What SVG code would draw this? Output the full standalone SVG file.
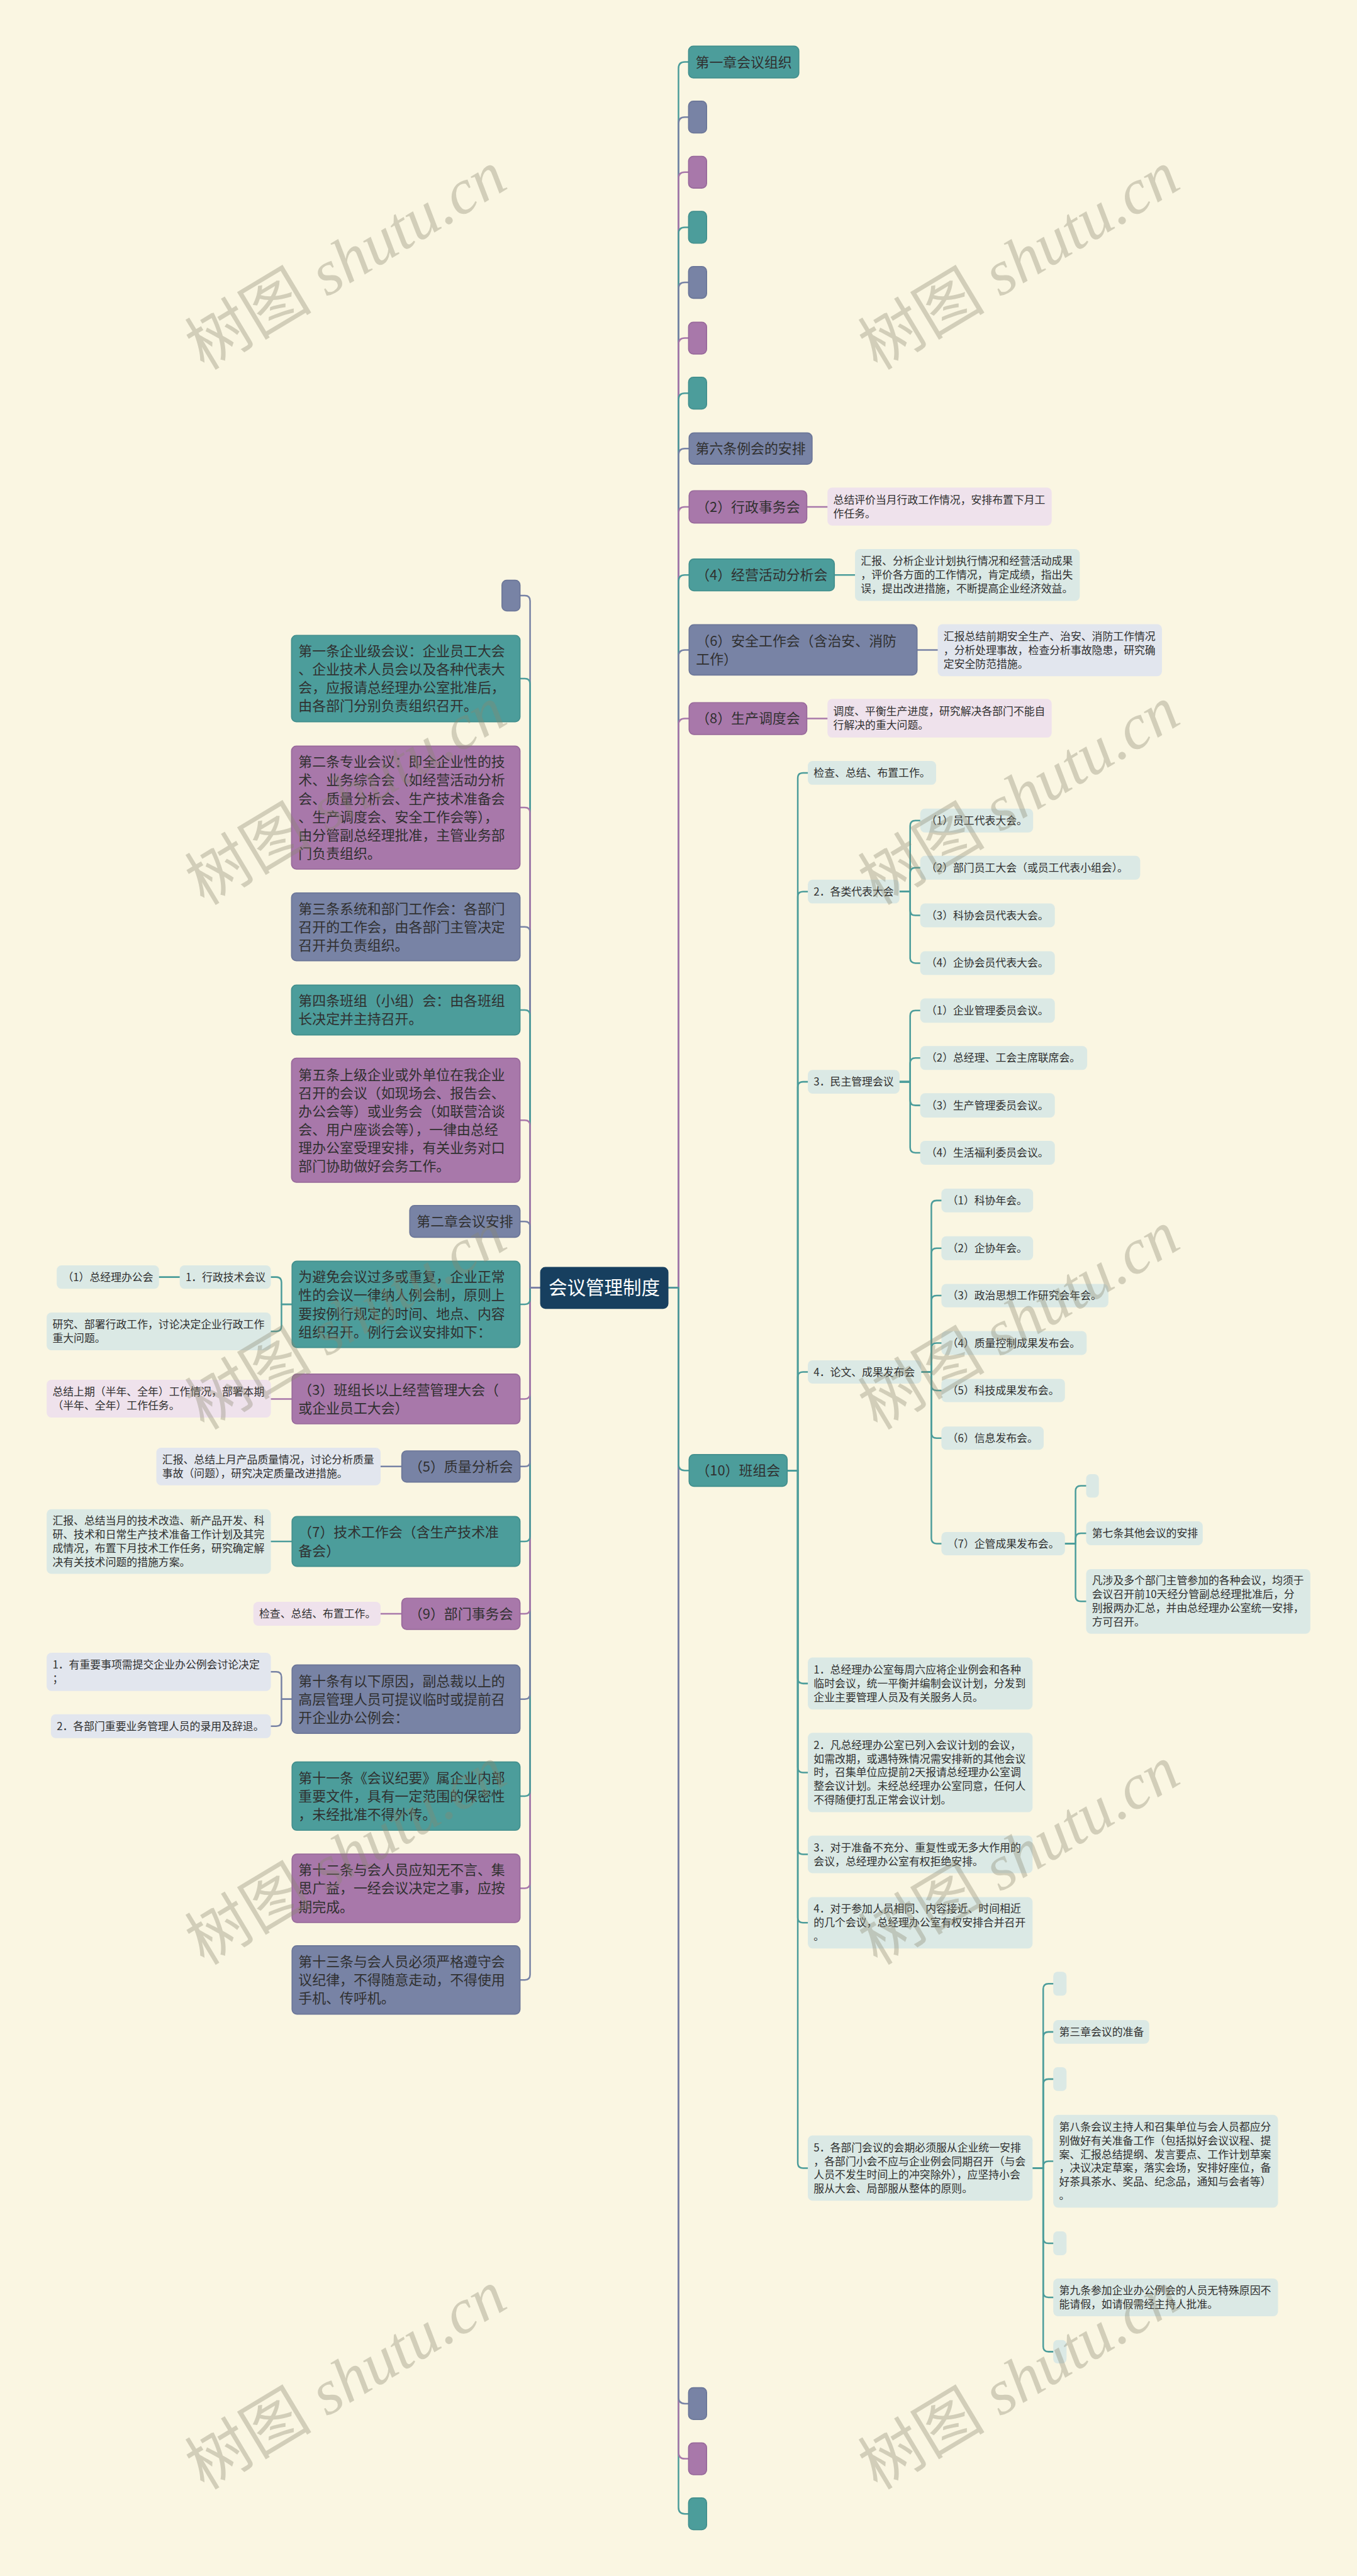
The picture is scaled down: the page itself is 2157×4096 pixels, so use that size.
<svg xmlns="http://www.w3.org/2000/svg" width="2157" height="4096" viewBox="0 0 2157 4096">
<style>
.teal{fill:#4c9d9b;stroke:#428f8d;stroke-width:2}
.blue{fill:#7883a5;stroke:#6b7698;stroke-width:2}
.purple{fill:#a878aa;stroke:#98699b;stroke-width:2}
.root{fill:#173f5f}
.lt{fill:#dbe9e5}
.lp{fill:#efe2ec}
.lb{fill:#e2e6ee}
.c{fill:none;stroke-width:3;stroke-linecap:round;stroke-linejoin:round}
.ct{stroke:#4c9d9b}
.cb{stroke:#7883a5}
.cp{stroke:#a878aa}
.t{font-family:"Noto Sans CJK SC","Noto Sans",sans-serif;fill:#303030}
.f26{font-size:26px}
.f20{font-size:20px}
.f35{font-size:35px;fill:#ffffff}
.m{text-anchor:middle}
.wm{font-family:"Liberation Serif","Noto Sans CJK SC",serif;font-size:120px;fill:#8a876f;opacity:0.35}
.it{font-style:italic}
</style>
<rect x="0" y="0" width="2157" height="4096" fill="#faf6e2"/>
<g transform="scale(0.84258)">
<g id="connectors">
<path class="c ct" d="M1261 2430H1280V129Q1280 117 1292 117H1300"/>
<path class="c cb" d="M1261 2430H1280V233Q1280 221 1292 221H1300"/>
<path class="c cp" d="M1261 2430H1280V337Q1280 325 1292 325H1300"/>
<path class="c ct" d="M1261 2430H1280V441Q1280 429 1292 429H1300"/>
<path class="c cb" d="M1261 2430H1280V545Q1280 533 1292 533H1300"/>
<path class="c cp" d="M1261 2430H1280V650Q1280 638 1292 638H1300"/>
<path class="c ct" d="M1261 2430H1280V754Q1280 742 1292 742H1300"/>
<path class="c cb" d="M1261 2430H1280V858.5Q1280 846.5 1292 846.5H1300"/>
<path class="c cp" d="M1261 2430H1280V968.5Q1280 956.5 1292 956.5H1300"/>
<path class="c ct" d="M1261 2430H1280V1097Q1280 1085 1292 1085H1300"/>
<path class="c cb" d="M1261 2430H1280V1238.5Q1280 1226.5 1292 1226.5H1300"/>
<path class="c cp" d="M1261 2430H1280V1368Q1280 1356 1292 1356H1300"/>
<path class="c ct" d="M1261 2430H1280V4732Q1280 4744 1292 4744H1300"/>
<path class="c cp" d="M1261 2430H1280V4628Q1280 4640 1292 4640H1300"/>
<path class="c cb" d="M1261 2430H1280V4524Q1280 4536 1292 4536H1300"/>
<path class="c ct" d="M1261 2430H1280V2763Q1280 2775 1292 2775H1300"/>

<path class="c cb" d="M1019 2430H1000V3726.5Q1000 3736.5 990 3736.5H981"/>
<path class="c cp" d="M1019 2430H1000V3553.5Q1000 3563.5 990 3563.5H981"/>
<path class="c ct" d="M1019 2430H1000V3379.5Q1000 3389.5 990 3389.5H981"/>
<path class="c cb" d="M1019 2430H1000V3196.5Q1000 3206.5 990 3206.5H981"/>
<path class="c cp" d="M1019 2430H1000V3035.5Q1000 3045.5 990 3045.5H981"/>
<path class="c ct" d="M1019 2430H1000V2899Q1000 2909 990 2909H981"/>
<path class="c cb" d="M1019 2430H1000V2757.5Q1000 2767.5 990 2767.5H981"/>
<path class="c cp" d="M1019 2430H1000V2630Q1000 2640 990 2640H981"/>
<path class="c ct" d="M1019 2430H1000V2451.5Q1000 2461.5 990 2461.5H981"/>
<path class="c cb" d="M1019 2430H1000V1134Q1000 1124 990 1124H981"/>
<path class="c ct" d="M1019 2430H1000V1290.5Q1000 1280.5 990 1280.5H981"/>
<path class="c cp" d="M1019 2430H1000V1534Q1000 1524 990 1524H981"/>
<path class="c cb" d="M1019 2430H1000V1759Q1000 1749 990 1749H981"/>
<path class="c ct" d="M1019 2430H1000V1916Q1000 1906 990 1906H981"/>
<path class="c cp" d="M1019 2430H1000V2124Q1000 2114 990 2114H981"/>
<path class="c cb" d="M1019 2430H1000V2315Q1000 2305 990 2305H981"/>

<path class="c cp" d="M1522 956.5H1561"/>
<path class="c ct" d="M1574 1085H1613"/>
<path class="c cb" d="M1730 1226.5H1769"/>
<path class="c cp" d="M1522 1356H1561"/>

<path class="c ct" d="M551 2461.5H531V2420Q531 2410 521 2410H511"/>
<path class="c ct" d="M551 2461.5H531V2502.5Q531 2512.5 521 2512.5H511"/>
<path class="c ct" d="M339 2410H300"/>
<path class="c cp" d="M551 2640H511"/>
<path class="c cb" d="M758 2767.5H718"/>
<path class="c ct" d="M551 2909H511"/>
<path class="c cp" d="M758 3045.5H718"/>
<path class="c cb" d="M551 3206.5H531V3165Q531 3155 521 3155H511"/>
<path class="c cb" d="M551 3206.5H531V3247.5Q531 3257.5 521 3257.5H511"/>

<path class="c ct" d="M1485 2775H1505V1468.5Q1505 1458.5 1515 1458.5H1524"/>
<path class="c ct" d="M1485 2775H1505V1692.5Q1505 1682.5 1515 1682.5H1524"/>
<path class="c ct" d="M1485 2775H1505V2051.5Q1505 2041.5 1515 2041.5H1524"/>
<path class="c ct" d="M1485 2775H1505V2599Q1505 2589 1515 2589H1524"/>
<path class="c ct" d="M1485 2775H1505V3167Q1505 3177 1515 3177H1524"/>
<path class="c ct" d="M1485 2775H1505V3335Q1505 3345 1515 3345H1524"/>
<path class="c ct" d="M1485 2775H1505V3489.5Q1505 3499.5 1515 3499.5H1524"/>
<path class="c ct" d="M1485 2775H1505V3618.5Q1505 3628.5 1515 3628.5H1524"/>
<path class="c ct" d="M1485 2775H1505V4081.5Q1505 4091.5 1515 4091.5H1524"/>

<path class="c ct" d="M1697 1682.5H1717V1558.5Q1717 1548.5 1727 1548.5H1736"/>
<path class="c ct" d="M1697 1682.5H1717V1647.5Q1717 1637.5 1727 1637.5H1736"/>
<path class="c ct" d="M1697 1682.5H1717V1717.5Q1717 1727.5 1727 1727.5H1736"/>
<path class="c ct" d="M1697 1682.5H1717V1807.5Q1717 1817.5 1727 1817.5H1736"/>

<path class="c ct" d="M1697 2041.5H1717V1917Q1717 1907 1727 1907H1736"/>
<path class="c ct" d="M1697 2041.5H1717V2006.5Q1717 1996.5 1727 1996.5H1736"/>
<path class="c ct" d="M1697 2041.5H1717V2076Q1717 2086 1727 2086H1736"/>
<path class="c ct" d="M1697 2041.5H1717V2165.5Q1717 2175.5 1727 2175.5H1736"/>

<path class="c ct" d="M1738 2589H1757V2275.5Q1757 2265.5 1767 2265.5H1776"/>
<path class="c ct" d="M1738 2589H1757V2365.5Q1757 2355.5 1767 2355.5H1776"/>
<path class="c ct" d="M1738 2589H1757V2455Q1757 2445 1767 2445H1776"/>
<path class="c ct" d="M1738 2589H1757V2544.5Q1757 2534.5 1767 2534.5H1776"/>
<path class="c ct" d="M1738 2589H1757V2614Q1757 2624 1767 2624H1776"/>
<path class="c ct" d="M1738 2589H1757V2704Q1757 2714 1767 2714H1776"/>
<path class="c ct" d="M1738 2589H1757V2903Q1757 2913 1767 2913H1776"/>

<path class="c ct" d="M2009 2913H2029V2814Q2029 2804 2039 2804H2049"/>
<path class="c ct" d="M2009 2913H2029V2903.5Q2029 2893.5 2039 2893.5H2049"/>
<path class="c ct" d="M2009 2913H2029V3012Q2029 3022 2039 3022H2049"/>

<path class="c ct" d="M1948 4091.5H1968V3753.5Q1968 3743.5 1978 3743.5H1987"/>
<path class="c ct" d="M1948 4091.5H1968V3844.5Q1968 3834.5 1978 3834.5H1987"/>
<path class="c ct" d="M1948 4091.5H1968V3933.5Q1968 3923.5 1978 3923.5H1987"/>
<path class="c ct" d="M1948 4091.5H1968V4088.5Q1968 4078.5 1978 4078.5H1987"/>
<path class="c ct" d="M1948 4091.5H1968V4223.5Q1968 4233.5 1978 4233.5H1987"/>
<path class="c ct" d="M1948 4091.5H1968V4325.5Q1968 4335.5 1978 4335.5H1987"/>
<path class="c ct" d="M1948 4091.5H1968V4428Q1968 4438 1978 4438H1987"/>
</g>

<g id="root"><rect class="root" x="1019" y="2391" width="242" height="79" rx="10"/><text class="t f35 m" x="1140" y="2443">会议管理制度</text></g>

<g id="r1"><rect class="teal" x="1299" y="87" width="208" height="60" rx="9"/><text class="t f26 m" x="1403" y="126.4">第一章会议组织</text></g>
<g id="r2"><rect class="blue" x="1299" y="191" width="34" height="60" rx="9"/></g>
<g id="r3"><rect class="purple" x="1299" y="295" width="34" height="60" rx="9"/></g>
<g id="r4"><rect class="teal" x="1299" y="399" width="34" height="60" rx="9"/></g>
<g id="r5"><rect class="blue" x="1299" y="503" width="34" height="60" rx="9"/></g>
<g id="r6"><rect class="purple" x="1299" y="608" width="34" height="60" rx="9"/></g>
<g id="r7"><rect class="teal" x="1299" y="712" width="34" height="60" rx="9"/></g>
<g id="r8"><rect class="blue" x="1300" y="817" width="232" height="59" rx="9"/><text class="t f26 m" x="1416" y="856">第六条例会的安排</text></g>
<g id="r9"><rect class="purple" x="1300" y="926" width="222" height="61" rx="9"/><text class="t f26 m" x="1411" y="966">（2）行政事务会</text></g>
<g id="r9d"><rect class="lp" x="1561" y="920" width="423" height="72" rx="9"/><text class="t f20" x="1572" y="950.2">总结评价当月行政工作情况，安排布置下月工<tspan x="1572" y="976.2">作任务。</tspan></text></g>
<g id="r10"><rect class="teal" x="1300" y="1055" width="274" height="60" rx="9"/><text class="t f26 m" x="1437" y="1094.4">（4）经营活动分析会</text></g>
<g id="r10d"><rect class="lt" x="1613" y="1036" width="424" height="98" rx="9"/><text class="t f20" x="1624" y="1066.2">汇报、分析企业计划执行情况和经营活动成果<tspan x="1624" y="1092.2">，评价各方面的工作情况，肯定成绩，指出失</tspan><tspan x="1624" y="1118.2">误，提出改进措施，不断提高企业经济效益。</tspan></text></g>
<g id="r11"><rect class="blue" x="1300" y="1179" width="430" height="95" rx="9"/><text class="t f26" x="1313" y="1218.6">（6）安全工作会（含治安、消防<tspan x="1313" y="1253.1">工作）</tspan></text></g>
<g id="r11d"><rect class="lb" x="1769" y="1178" width="423" height="98" rx="9"/><text class="t f20" x="1780" y="1208.2">汇报总结前期安全生产、治安、消防工作情况<tspan x="1780" y="1234.2">，分析处理事故，检查分析事故隐患，研究确</tspan><tspan x="1780" y="1260.2">定安全防范措施。</tspan></text></g>
<g id="r12"><rect class="purple" x="1300" y="1326" width="222" height="60" rx="9"/><text class="t f26 m" x="1411" y="1365.4">（8）生产调度会</text></g>
<g id="r12d"><rect class="lp" x="1561" y="1319" width="423" height="73" rx="9"/><text class="t f20" x="1572" y="1349.7">调度、平衡生产进度，研究解决各部门不能自<tspan x="1572" y="1375.7">行解决的重大问题。</tspan></text></g>
<g id="r13"><rect class="teal" x="1300" y="2745" width="185" height="60" rx="9"/><text class="t f26 m" x="1392.5" y="2784.4">（10）班组会</text></g>
<g id="r14"><rect class="blue" x="1299" y="4506" width="34" height="60" rx="9"/></g>
<g id="r15"><rect class="purple" x="1299" y="4610" width="34" height="60" rx="9"/></g>
<g id="r16"><rect class="teal" x="1299" y="4714" width="34" height="60" rx="9"/></g>

<g id="b1"><rect class="lt" x="1524" y="1436" width="242" height="45" rx="9"/><text class="t f20" x="1535" y="1465.7">检查、总结、布置工作。</text></g>
<g id="b2"><rect class="lt" x="1524" y="1660" width="173" height="45" rx="9"/><text class="t f20" x="1535" y="1689.7">2．各类代表大会</text></g>
<g id="b2a"><rect class="lt" x="1736" y="1526" width="213" height="45" rx="9"/><text class="t f20" x="1747" y="1555.7">（1）员工代表大会。</text></g>
<g id="b2b"><rect class="lt" x="1736" y="1615" width="415" height="45" rx="9"/><text class="t f20" x="1747" y="1644.7">（2）部门员工大会（或员工代表小组会）。</text></g>
<g id="b2c"><rect class="lt" x="1736" y="1705" width="254" height="45" rx="9"/><text class="t f20" x="1747" y="1734.7">（3）科协会员代表大会。</text></g>
<g id="b2d"><rect class="lt" x="1736" y="1795" width="254" height="45" rx="9"/><text class="t f20" x="1747" y="1824.7">（4）企协会员代表大会。</text></g>
<g id="b3"><rect class="lt" x="1524" y="2019" width="173" height="45" rx="9"/><text class="t f20" x="1535" y="2048.7">3．民主管理会议</text></g>
<g id="b3a"><rect class="lt" x="1736" y="1884" width="254" height="46" rx="9"/><text class="t f20" x="1747" y="1914.2">（1）企业管理委员会议。</text></g>
<g id="b3b"><rect class="lt" x="1736" y="1974" width="315" height="45" rx="9"/><text class="t f20" x="1747" y="2003.7">（2）总经理、工会主席联席会。</text></g>
<g id="b3c"><rect class="lt" x="1736" y="2063" width="254" height="46" rx="9"/><text class="t f20" x="1747" y="2093.2">（3）生产管理委员会议。</text></g>
<g id="b3d"><rect class="lt" x="1736" y="2153" width="254" height="45" rx="9"/><text class="t f20" x="1747" y="2182.7">（4）生活福利委员会议。</text></g>
<g id="b4"><rect class="lt" x="1524" y="2567" width="214" height="44" rx="9"/><text class="t f20" x="1535" y="2596.2">4．论文、成果发布会</text></g>
<g id="b4a"><rect class="lt" x="1776" y="2243" width="173" height="45" rx="9"/><text class="t f20" x="1787" y="2272.7">（1）科协年会。</text></g>
<g id="b4b"><rect class="lt" x="1776" y="2333" width="173" height="45" rx="9"/><text class="t f20" x="1787" y="2362.7">（2）企协年会。</text></g>
<g id="b4c"><rect class="lt" x="1776" y="2423" width="315" height="44" rx="9"/><text class="t f20" x="1787" y="2452.2">（3）政治思想工作研究会年会。</text></g>
<g id="b4d"><rect class="lt" x="1776" y="2512" width="274" height="45" rx="9"/><text class="t f20" x="1787" y="2541.7">（4）质量控制成果发布会。</text></g>
<g id="b4e"><rect class="lt" x="1776" y="2602" width="233" height="44" rx="9"/><text class="t f20" x="1787" y="2631.2">（5）科技成果发布会。</text></g>
<g id="b4f"><rect class="lt" x="1776" y="2692" width="193" height="44" rx="9"/><text class="t f20" x="1787" y="2721.2">（6）信息发布会。</text></g>
<g id="b4g"><rect class="lt" x="1776" y="2891" width="233" height="44" rx="9"/><text class="t f20" x="1787" y="2920.2">（7）企管成果发布会。</text></g>
<g id="b4g1"><rect class="lt" x="2049" y="2782" width="24" height="44" rx="8"/></g>
<g id="b4g2"><rect class="lt" x="2049" y="2871" width="220" height="45" rx="9"/><text class="t f20" x="2060" y="2900.7">第七条其他会议的安排</text></g>
<g id="b4g3"><rect class="lt" x="2049" y="2961" width="423" height="122" rx="9"/><text class="t f20" x="2060" y="2990.2">凡涉及多个部门主管参加的各种会议，均须于<tspan x="2060" y="3016.2">会议召开前10天经分管副总经理批准后，分</tspan><tspan x="2060" y="3042.2">别报两办汇总，并由总经理办公室统一安排，</tspan><tspan x="2060" y="3068.2">方可召开。</tspan></text></g>
<g id="b5"><rect class="lt" x="1524" y="3128" width="424" height="98" rx="9"/><text class="t f20" x="1535" y="3158.2">1．总经理办公室每周六应将企业例会和各种<tspan x="1535" y="3184.2">临时会议，统一平衡并编制会议计划，分发到</tspan><tspan x="1535" y="3210.2">企业主要管理人员及有关服务人员。</tspan></text></g>
<g id="b6"><rect class="lt" x="1524" y="3270" width="424" height="150" rx="9"/><text class="t f20" x="1535" y="3300.2">2．凡总经理办公室已列入会议计划的会议，<tspan x="1535" y="3326.2">如需改期，或遇特殊情况需安排新的其他会议</tspan><tspan x="1535" y="3352.2">时，召集单位应提前2天报请总经理办公室调</tspan><tspan x="1535" y="3378.2">整会议计划。未经总经理办公室同意，任何人</tspan><tspan x="1535" y="3404.2">不得随便打乱正常会议计划。</tspan></text></g>
<g id="b7"><rect class="lt" x="1524" y="3464" width="424" height="71" rx="9"/><text class="t f20" x="1535" y="3493.7">3．对于准备不充分、重复性或无多大作用的<tspan x="1535" y="3519.7">会议，总经理办公室有权拒绝安排。</tspan></text></g>
<g id="b8"><rect class="lt" x="1524" y="3580" width="424" height="97" rx="9"/><text class="t f20" x="1535" y="3609.7">4．对于参加人员相同、内容接近、时间相近<tspan x="1535" y="3635.7">的几个会议，总经理办公室有权安排合并召开</tspan><tspan x="1535" y="3661.7">。</tspan></text></g>
<g id="b9"><rect class="lt" x="1524" y="4030" width="424" height="123" rx="9"/><text class="t f20" x="1535" y="4059.7">5．各部门会议的会期必须服从企业统一安排<tspan x="1535" y="4085.7">，各部门小会不应与企业例会同期召开（与会</tspan><tspan x="1535" y="4111.7">人员不发生时间上的冲突除外），应坚持小会</tspan><tspan x="1535" y="4137.7">服从大会、局部服从整体的原则。</tspan></text></g>
<g id="b9a"><rect class="lt" x="1987" y="3721" width="25" height="45" rx="8"/></g>
<g id="b9b"><rect class="lt" x="1987" y="3812" width="181" height="45" rx="9"/><text class="t f20" x="1998" y="3841.7">第三章会议的准备</text></g>
<g id="b9c"><rect class="lt" x="1987" y="3901" width="25" height="45" rx="8"/></g>
<g id="b9d"><rect class="lt" x="1987" y="3991" width="424" height="175" rx="9"/><text class="t f20" x="1998" y="4020.7">第八条会议主持人和召集单位与会人员都应分<tspan x="1998" y="4046.7">别做好有关准备工作（包括拟好会议议程、提</tspan><tspan x="1998" y="4072.7">案、汇报总结提纲、发言要点、工作计划草案</tspan><tspan x="1998" y="4098.7">，决议决定草案，落实会场，安排好座位，备</tspan><tspan x="1998" y="4124.7">好茶具茶水、奖品、纪念品，通知与会者等）</tspan><tspan x="1998" y="4150.7">。</tspan></text></g>
<g id="b9e"><rect class="lt" x="1987" y="4211" width="25" height="45" rx="8"/></g>
<g id="b9f"><rect class="lt" x="1987" y="4300" width="424" height="71" rx="9"/><text class="t f20" x="1998" y="4329.7">第九条参加企业办公例会的人员无特殊原因不<tspan x="1998" y="4355.7">能请假，如请假需经主持人批准。</tspan></text></g>
<g id="b9g"><rect class="lt" x="1987" y="4416" width="25" height="44" rx="8"/></g>

<g id="l0"><rect class="blue" x="947" y="1095" width="34" height="58" rx="9"/></g>
<g id="l1"><rect class="teal" x="550" y="1199" width="431" height="163" rx="9"/><text class="t f26" x="563" y="1238.2">第一条企业级会议：企业员工大会<tspan x="563" y="1272.7">、企业技术人员会以及各种代表大</tspan><tspan x="563" y="1307.2">会，应报请总经理办公室批准后，</tspan><tspan x="563" y="1341.7">由各部门分别负责组织召开。</tspan></text></g>
<g id="l2"><rect class="purple" x="550" y="1408" width="431" height="232" rx="9"/><text class="t f26" x="563" y="1447.2">第二条专业会议：即全企业性的技<tspan x="563" y="1481.7">术、业务综合会（如经营活动分析</tspan><tspan x="563" y="1516.2">会、质量分析会、生产技术准备会</tspan><tspan x="563" y="1550.7">、生产调度会、安全工作会等），</tspan><tspan x="563" y="1585.2">由分管副总经理批准，主管业务部</tspan><tspan x="563" y="1619.7">门负责组织。</tspan></text></g>
<g id="l3"><rect class="blue" x="550" y="1685" width="431" height="128" rx="9"/><text class="t f26" x="563" y="1723.9">第三条系统和部门工作会：各部门<tspan x="563" y="1758.4">召开的工作会，由各部门主管决定</tspan><tspan x="563" y="1792.9">召开并负责组织。</tspan></text></g>
<g id="l4"><rect class="teal" x="550" y="1859" width="431" height="94" rx="9"/><text class="t f26" x="563" y="1898.2">第四条班组（小组）会：由各班组<tspan x="563" y="1932.7">长决定并主持召开。</tspan></text></g>
<g id="l5"><rect class="purple" x="550" y="1997" width="431" height="234" rx="9"/><text class="t f26" x="563" y="2037.2">第五条上级企业或外单位在我企业<tspan x="563" y="2071.7">召开的会议（如现场会、报告会、</tspan><tspan x="563" y="2106.2">办公会等）或业务会（如联营洽谈</tspan><tspan x="563" y="2140.7">会、用户座谈会等），一律由总经</tspan><tspan x="563" y="2175.2">理办公室受理安排，有关业务对口</tspan><tspan x="563" y="2209.7">部门协助做好会务工作。</tspan></text></g>
<g id="l6"><rect class="blue" x="773" y="2275" width="208" height="60" rx="9"/><text class="t f26 m" x="877" y="2314.4">第二章会议安排</text></g>
<g id="l7"><rect class="teal" x="551" y="2380" width="430" height="163" rx="9"/><text class="t f26" x="563" y="2419.2">为避免会议过多或重复，企业正常<tspan x="563" y="2453.7">性的会议一律纳人例会制，原则上</tspan><tspan x="563" y="2488.2">要按例行规定的时间、地点、内容</tspan><tspan x="563" y="2522.7">组织召开。例行会议安排如下：</tspan></text></g>
<g id="l7a"><rect class="lt" x="339" y="2388" width="172" height="44" rx="9"/><text class="t f20" x="350" y="2417.2">1．行政技术会议</text></g>
<g id="l7a1"><rect class="lt" x="107" y="2388" width="193" height="44" rx="9"/><text class="t f20" x="118" y="2417.2">（1）总经理办公会</text></g>
<g id="l7b"><rect class="lt" x="88" y="2477" width="423" height="71" rx="9"/><text class="t f20" x="99" y="2506.7">研究、部署行政工作，讨论决定企业行政工作<tspan x="99" y="2532.7">重大问题。</tspan></text></g>
<g id="l8"><rect class="purple" x="551" y="2593" width="430" height="94" rx="9"/><text class="t f26" x="563" y="2632.2">（3）班组长以上经营管理大会（<tspan x="563" y="2666.7">或企业员工大会）</tspan></text></g>
<g id="l8a"><rect class="lp" x="88" y="2604" width="423" height="71" rx="9"/><text class="t f20" x="99" y="2633.7">总结上期（半年、全年）工作情况，部署本期<tspan x="99" y="2659.7">（半年、全年）工作任务。</tspan></text></g>
<g id="l9"><rect class="blue" x="758" y="2738" width="223" height="59" rx="9"/><text class="t f26 m" x="869.5" y="2777">（5）质量分析会</text></g>
<g id="l9a"><rect class="lb" x="295" y="2732" width="423" height="71" rx="9"/><text class="t f20" x="306" y="2761.7">汇报、总结上月产品质量情况，讨论分析质量<tspan x="306" y="2787.7">事故（问题），研究决定质量改进措施。</tspan></text></g>
<g id="l10"><rect class="teal" x="551" y="2862" width="430" height="94" rx="9"/><text class="t f26" x="563" y="2901.2">（7）技术工作会（含生产技术准<tspan x="563" y="2935.7">备会）</tspan></text></g>
<g id="l10a"><rect class="lt" x="88" y="2848" width="423" height="122" rx="9"/><text class="t f20" x="99" y="2877.2">汇报、总结当月的技术改造、新产品开发、科<tspan x="99" y="2903.2">研、技术和日常生产技术准备工作计划及其完</tspan><tspan x="99" y="2929.2">成情况，布置下月技术工作任务，研究确定解</tspan><tspan x="99" y="2955.2">决有关技术问题的措施方案。</tspan></text></g>
<g id="l11"><rect class="purple" x="758" y="3016" width="223" height="59" rx="9"/><text class="t f26 m" x="869.5" y="3055">（9）部门事务会</text></g>
<g id="l11a"><rect class="lp" x="478" y="3023" width="240" height="45" rx="9"/><text class="t f20" x="489" y="3052.7">检查、总结、布置工作。</text></g>
<g id="l12"><rect class="blue" x="551" y="3142" width="430" height="129" rx="9"/><text class="t f26" x="563" y="3181.4">第十条有以下原因，副总裁以上的<tspan x="563" y="3215.9">高层管理人员可提议临时或提前召</tspan><tspan x="563" y="3250.4">开企业办公例会：</tspan></text></g>
<g id="l12a"><rect class="lb" x="88" y="3119" width="423" height="72" rx="9"/><text class="t f20" x="99" y="3149.2">1．有重要事项需提交企业办公例会讨论决定<tspan x="99" y="3175.2">；</tspan></text></g>
<g id="l12b"><rect class="lb" x="96" y="3235" width="415" height="45" rx="9"/><text class="t f20" x="107" y="3264.7">2．各部门重要业务管理人员的录用及辞退。</text></g>
<g id="l13"><rect class="teal" x="551" y="3325" width="430" height="129" rx="9"/><text class="t f26" x="563" y="3364.4">第十一条《会议纪要》属企业内部<tspan x="563" y="3398.9">重要文件，具有一定范围的保密性</tspan><tspan x="563" y="3433.4">，未经批准不得外传。</tspan></text></g>
<g id="l14"><rect class="purple" x="551" y="3499" width="430" height="129" rx="9"/><text class="t f26" x="563" y="3538.4">第十二条与会人员应知无不言、集<tspan x="563" y="3572.9">思广益，一经会议决定之事，应按</tspan><tspan x="563" y="3607.4">期完成。</tspan></text></g>
<g id="l15"><rect class="blue" x="551" y="3672" width="430" height="129" rx="9"/><text class="t f26" x="563" y="3711.4">第十三条与会人员必须严格遵守会<tspan x="563" y="3745.9">议纪律，不得随意走动，不得使用</tspan><tspan x="563" y="3780.4">手机、传呼机。</tspan></text></g>

<g id="watermarks">
<text class="wm" transform="translate(385 700) rotate(-31)">树图 <tspan class="it">shutu.cn</tspan></text>
<text class="wm" transform="translate(1655 700) rotate(-31)">树图 <tspan class="it">shutu.cn</tspan></text>
<text class="wm" transform="translate(385 1710) rotate(-31)">树图 <tspan class="it">shutu.cn</tspan></text>
<text class="wm" transform="translate(1655 1710) rotate(-31)">树图 <tspan class="it">shutu.cn</tspan></text>
<text class="wm" transform="translate(385 2700) rotate(-31)">树图 <tspan class="it">shutu.cn</tspan></text>
<text class="wm" transform="translate(1655 2700) rotate(-31)">树图 <tspan class="it">shutu.cn</tspan></text>
<text class="wm" transform="translate(385 3710) rotate(-31)">树图 <tspan class="it">shutu.cn</tspan></text>
<text class="wm" transform="translate(1655 3710) rotate(-31)">树图 <tspan class="it">shutu.cn</tspan></text>
<text class="wm" transform="translate(385 4700) rotate(-31)">树图 <tspan class="it">shutu.cn</tspan></text>
<text class="wm" transform="translate(1655 4700) rotate(-31)">树图 <tspan class="it">shutu.cn</tspan></text>
</g>
</g>
</svg>
